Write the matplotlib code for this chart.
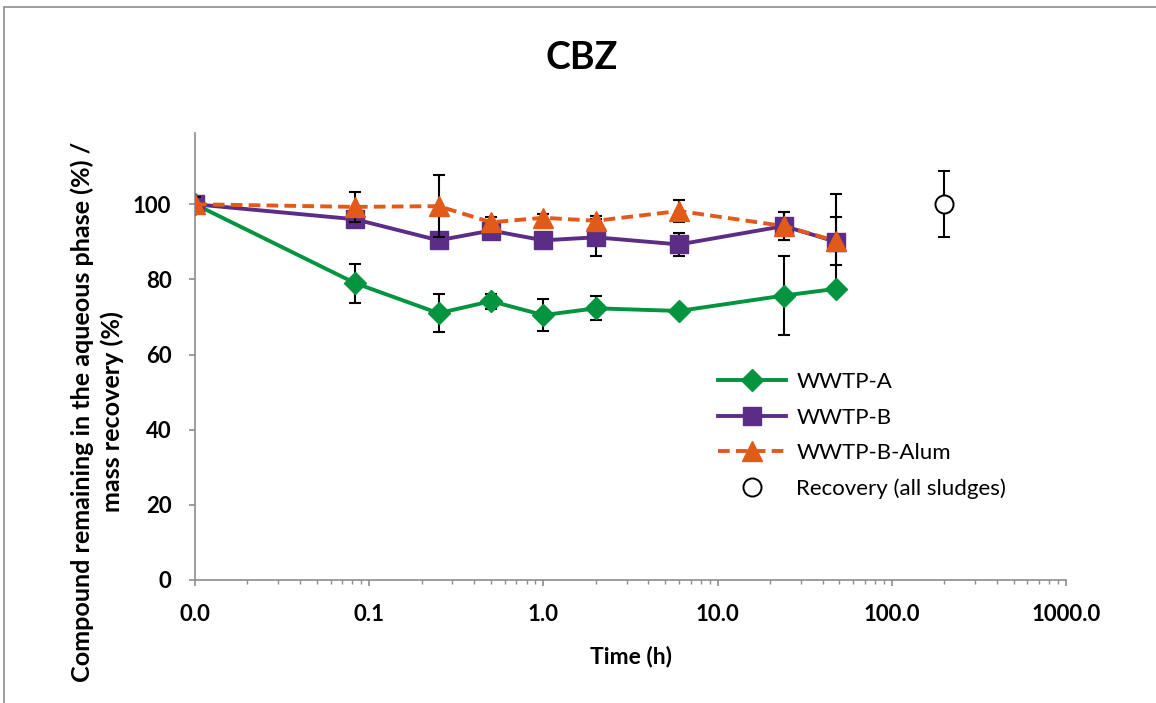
import matplotlib
matplotlib.use("Agg")
import matplotlib.pyplot as plt
from matplotlib.patches import Rectangle
from matplotlib.ticker import LogLocator, NullFormatter

plt.rcParams['font.family'] = ['Lato', 'DejaVu Sans']

# sampling times (h); first point drawn at 0.01 on the log axis
time_h = [0.01, 0.083, 0.25, 0.5, 1, 2, 6, 24, 48]

wwtp_a = [100, 79.0, 71.0, 74.2, 70.5, 72.3, 71.6, 75.7, 77.5]
wwtp_a_err = [2.0, 5.2, 5.0, 2.0, 4.2, 3.2, 0.5, 10.6, 1.0]

wwtp_b = [100, 96.0, 90.4, 93.0, 90.4, 91.2, 89.3, 94.2, 90.0]
wwtp_b_err = [2.0, 1.5, 1.5, 1.5, 1.0, 5.0, 3.0, 3.7, 12.7]

wwtp_b_alum = [100, 99.3, 99.5, 95.2, 96.4, 95.6, 98.2, 94.2, 90.2]
wwtp_b_alum_err = [2.0, 4.0, 8.2, 1.5, 1.0, 1.2, 2.8, 3.7, 6.3]

recovery_t = [200]
recovery = [100]
recovery_err = [8.8]

decades = [0.01, 0.1, 1, 10, 100, 1000]
decade_labels = ["0.0", "0.1", "1.0", "10.0", "100.0", "1000.0"]
y_ticks = [0, 20, 40, 60, 80, 100]

fig = plt.figure(figsize=(11.56, 7.03), dpi=100)
ax = fig.add_axes([0.1687, 0.175, 0.7535, 0.636])

# outer chart border
fig.patches.append(Rectangle((0.0035, -0.02), 1.02, 1.01, transform=fig.transFigure,
                             fill=False, edgecolor='#8c8c8c', linewidth=1.2))

ebar = dict(ecolor='black', elinewidth=1.5, capsize=4.5, capthick=1.5)

ax.errorbar(time_h, wwtp_a, yerr=wwtp_a_err, color='#03943f', lw=2.8,
            marker='D', markersize=11, label='WWTP-A', zorder=3, **ebar)
ax.errorbar(time_h, wwtp_b, yerr=wwtp_b_err, color='#5c2d87', lw=2.8,
            marker='s', markersize=13, label='WWTP-B', zorder=3, **ebar)
ax.errorbar(time_h, wwtp_b_alum, yerr=wwtp_b_alum_err, color='#e25a1a', lw=2.8,
            ls=(0, (3, 1.6)), marker='^', markersize=14, label='WWTP-B-Alum',
            zorder=4, **ebar)
ax.errorbar(recovery_t, recovery, yerr=recovery_err, color='black', ls='none',
            marker='o', markersize=13, mfc='white', mec='black', mew=1.4,
            label='Recovery (all sludges)', zorder=4, **ebar)

ax.set_xscale('log')
ax.set_xlim(0.01, 1000)
ax.set_ylim(0, 119)
ax.set_xticks(decades)
ax.set_xticklabels(decade_labels)
ax.xaxis.set_minor_locator(LogLocator(base=10, subs=range(2, 10), numticks=20))
ax.xaxis.set_minor_formatter(NullFormatter())
ax.set_yticks(y_ticks)

for s in ['top', 'right']:
    ax.spines[s].set_visible(False)
for s in ['left', 'bottom']:
    ax.spines[s].set_color('#8c8c8c')
    ax.spines[s].set_linewidth(1.2)

ax.tick_params(axis='both', which='major', color='#8c8c8c', length=4, width=1.2,
               labelsize=16, pad=13)
ax.tick_params(axis='x', which='minor', color='#8c8c8c', length=3, width=1)
for lab in ax.get_xticklabels() + ax.get_yticklabels():
    lab.set_fontweight('bold')

ax.set_xlabel('Time (h)', fontsize=16.5, fontweight='bold', labelpad=15)
ax.set_ylabel('Compound remaining in the aqueous phase (%) /\nmass recovery (%)',
              fontsize=18.1, fontweight='bold', linespacing=1.3)
ax.yaxis.set_label_coords(-0.082, 0.376)
fig.text(0.503, 0.917, 'CBZ', fontsize=27, fontweight='bold', ha='center', va='center')

handles, labels = ax.get_legend_handles_labels()
handles = [h[0] for h in handles]
ax.legend(handles, labels, loc='upper left', bbox_to_anchor=(0.577, 0.51),
          frameon=False, fontsize=16, handlelength=3.1, labelspacing=0.7,
          handletextpad=0.45)

fig.savefig('out.png', dpi=100)
